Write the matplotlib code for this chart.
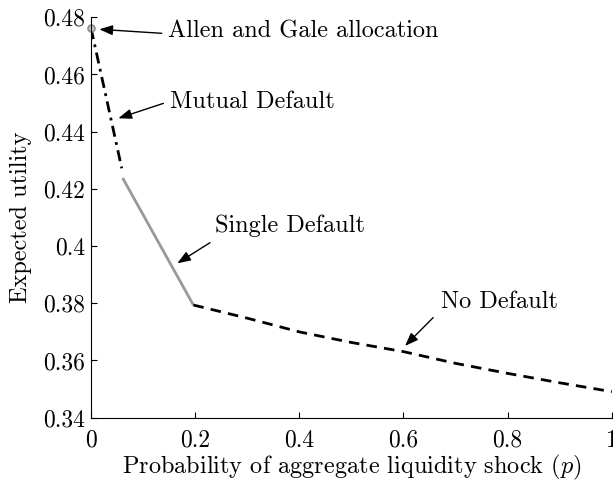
import numpy as np
import matplotlib
matplotlib.use("Agg")
from matplotlib import pyplot as plt

plt.rcParams["font.family"] = "serif"
plt.rcParams["font.serif"] = ["cmr10"]
plt.rcParams["mathtext.fontset"] = "cm"
plt.rcParams["axes.unicode_minus"] = False

# regimes
mutual_p = [0.0, 0.059]
mutual_u = [0.4762, 0.4272]

single_p = [0.062, 0.1953]
single_u = [0.4234, 0.3798]

nodef_p = [0.1965, 0.3, 0.4, 0.5, 0.6, 0.7, 0.8, 0.9, 1.0]
nodef_u = [0.3794, 0.3748, 0.3700, 0.3663, 0.3631, 0.3590, 0.3555, 0.3522, 0.3491]

ag_p, ag_u = 0.0, 0.4762

xticks = [0, 0.2, 0.4, 0.6, 0.8, 1]
yticks = [0.34, 0.36, 0.38, 0.40, 0.42, 0.44, 0.46, 0.48]

fig = plt.figure(figsize=(6.13, 4.83), dpi=100)
ax = fig.add_axes([0.1485, 0.1352, 0.998 - 0.1485, 0.9642 - 0.1352])

ax.plot(mutual_p, mutual_u, color="k", ls=(0, (4, 2, 1, 2)), lw=2)
ax.plot(single_p, single_u, color="0.6", ls="-", lw=2)
ax.plot(nodef_p, nodef_u, color="k", ls=(0, (3.8, 2.6)), lw=2)
ax.plot([ag_p], [ag_u], "o", ms=5, mfc="0.8", mec="0.55", mew=1.2, clip_on=False)

ax.set_xlim(0, 1)
ax.set_ylim(0.34, 0.48)
ax.set_xticks(xticks)
ax.set_xticklabels([f"{t:g}" for t in xticks])
ax.set_yticks(yticks)
ax.set_yticklabels([f"{t:g}" for t in yticks])
ax.tick_params(direction="in", length=4, labelsize=17, width=0.8)
ax.tick_params(axis="x", pad=8.5)
ax.tick_params(axis="y", pad=4.5)
for s in ["top", "right"]:
    ax.spines[s].set_visible(False)
for s in ["left", "bottom"]:
    ax.spines[s].set_linewidth(0.8)

ax.set_xlabel("Probability of aggregate liquidity shock ($p$)", fontsize=17.5, labelpad=1)
ax.set_ylabel("Expected utility", fontsize=17.5, labelpad=8)

arrow = dict(arrowstyle="-|>,head_length=0.8,head_width=0.3", color="k", lw=1,
             shrinkA=0, shrinkB=0)
notes = [
    ("Allen and Gale allocation", (0.0159, 0.4758), (0.1358, 0.4744), (0.148, 0.4749)),
    ("Mutual Default", (0.0524, 0.4447), (0.1389, 0.4499), (0.1517, 0.4504)),
    ("Single Default", (0.1657, 0.3940), (0.2286, 0.4012), (0.238, 0.4070)),
    ("No Default", (0.603, 0.3651), (0.657, 0.3750), (0.672, 0.3805)),
]
for label, tip, tail, pos in notes:
    ax.annotate("", xy=tip, xytext=tail, arrowprops=arrow)
    ax.text(pos[0], pos[1], label, fontsize=17.5, va="center", ha="left")

fig.savefig("out.png", dpi=100)
